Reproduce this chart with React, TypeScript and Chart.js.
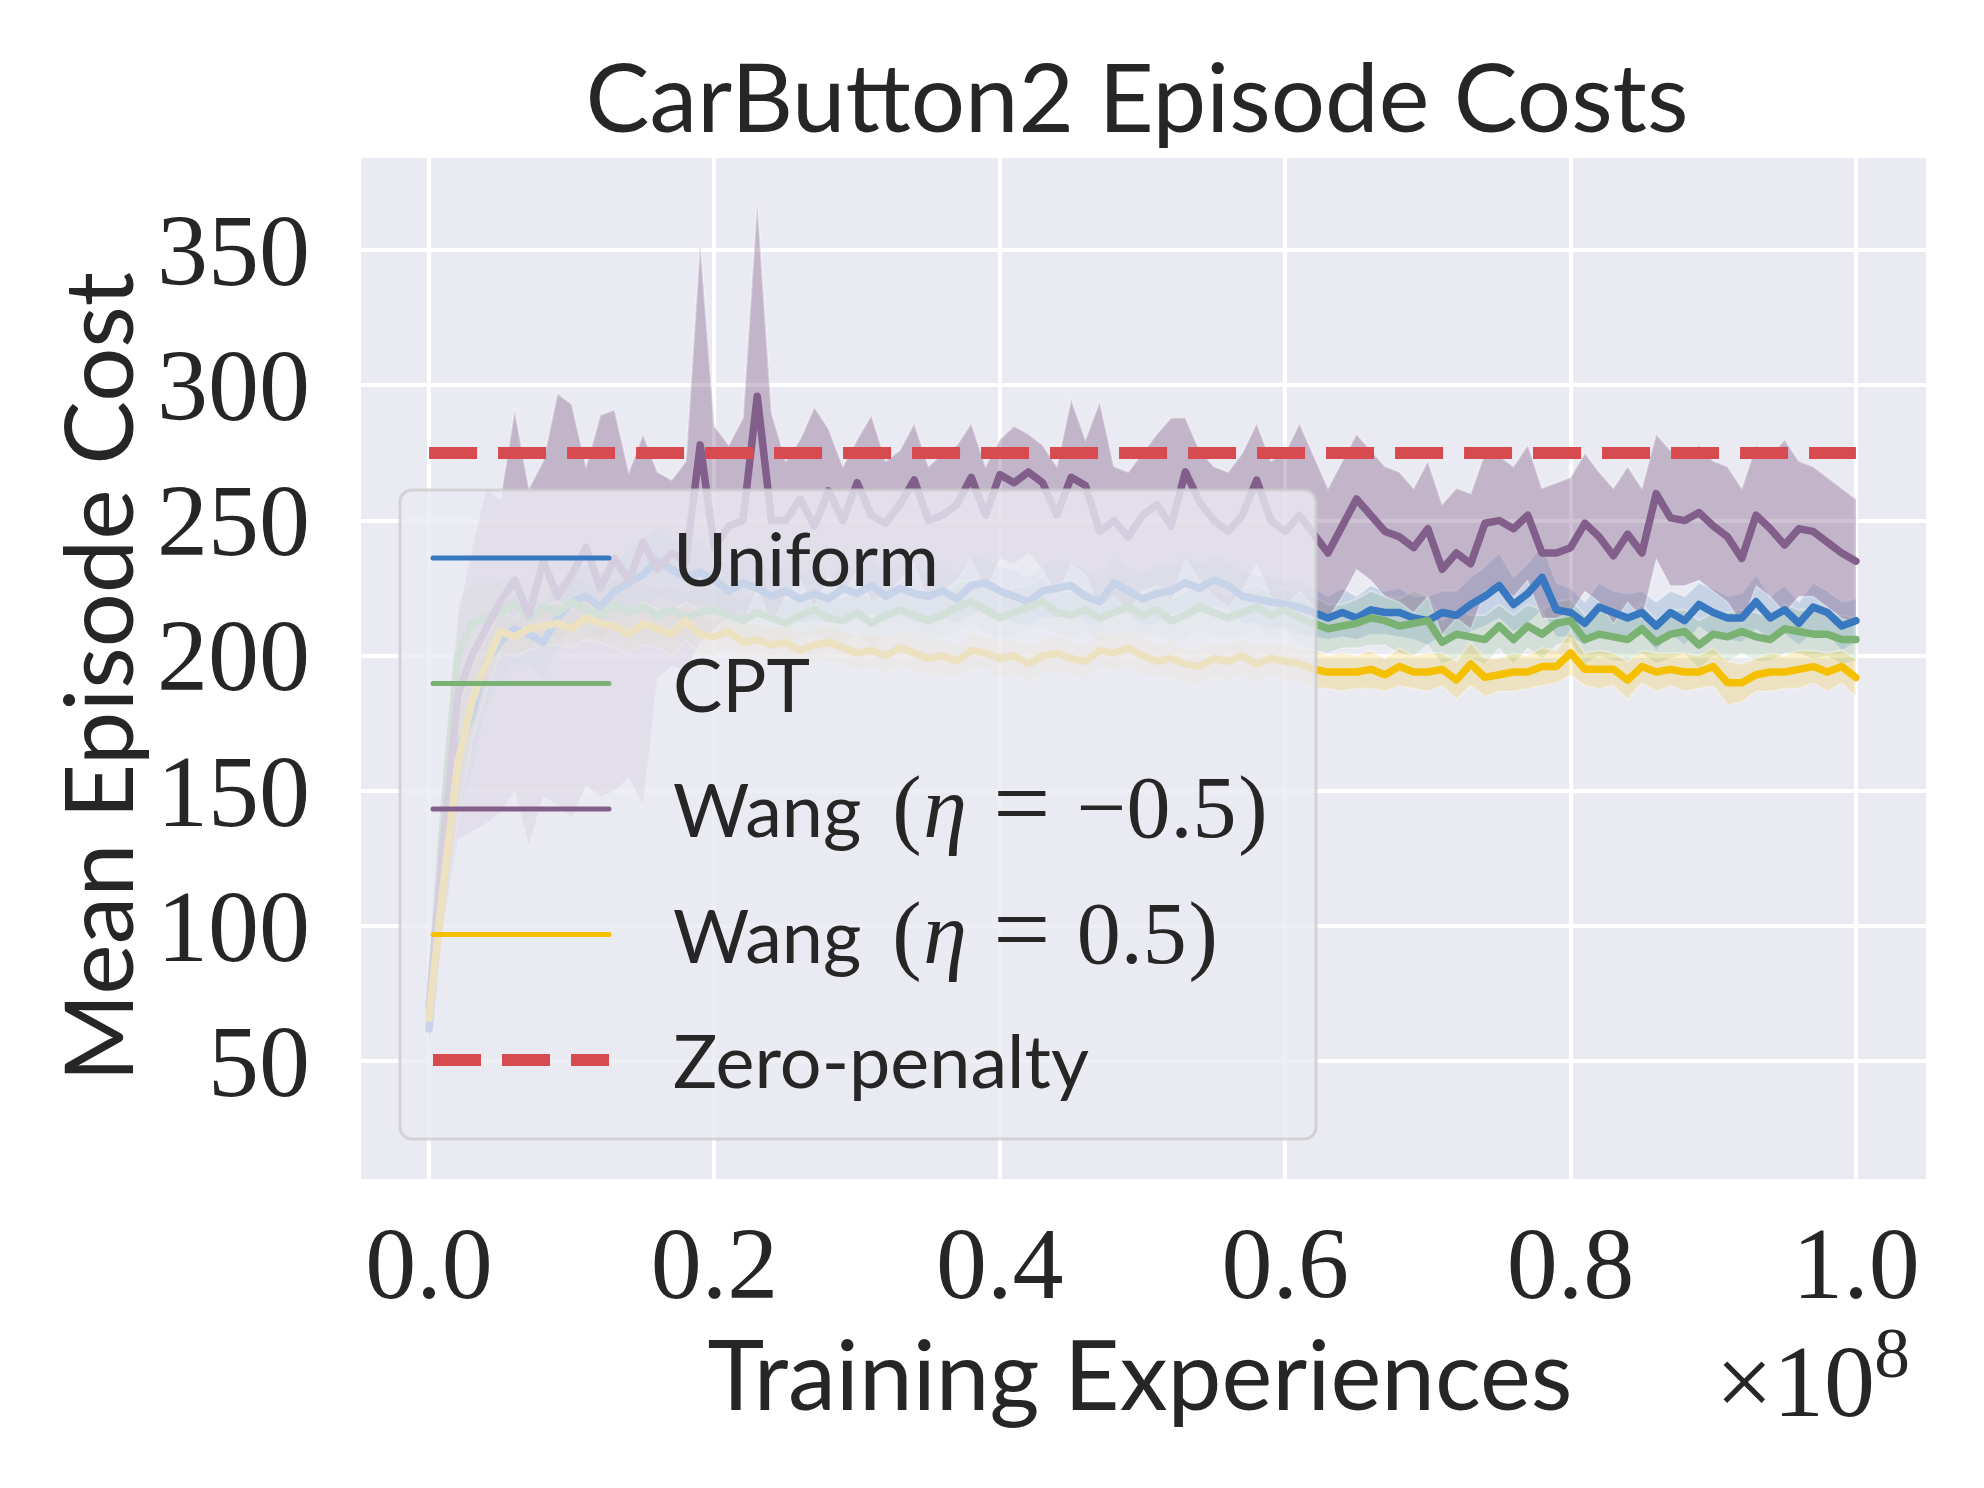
import { useEffect, useRef } from 'react'
import Chart from 'chart.js/auto'

// x values are millions of training experiences; the axis shows them in units of 1e8
const experiencesM = [
  0, 1, 2, 3, 4, 5, 6, 7, 8, 9,
  10, 11, 12, 13, 14, 15, 16, 17, 18, 19,
  20, 21, 22, 23, 24, 25, 26, 27, 28, 29,
  30, 31, 32, 33, 34, 35, 36, 37, 38, 39,
  40, 41, 42, 43, 44, 45, 46, 47, 48, 49,
  50, 51, 52, 53, 54, 55, 56, 57, 58, 59,
  60, 61, 62, 63, 64, 65, 66, 67, 68, 69,
  70, 71, 72, 73, 74, 75, 76, 77, 78, 79,
  80, 81, 82, 83, 84, 85, 86, 87, 88, 89,
  90, 91, 92, 93, 94, 95, 96, 97, 98, 99,
  100,
]

const uniformCost = [
  62, 120, 165, 178, 198, 205, 210, 208, 205, 214,
  220, 222, 218, 224, 227, 230, 235, 232, 229, 231,
  228, 224, 227, 225, 222, 224, 221, 223, 221, 225,
  223, 226, 222, 225, 223, 222, 224, 221, 226, 227,
  224, 222, 220, 224, 225, 226, 222, 220, 227, 224,
  221, 223, 224, 227, 225, 228, 226, 222, 221, 220,
  219, 218, 216, 214, 216, 214, 217, 216, 216, 214,
  213, 216, 215, 219, 222, 226, 219, 223, 229, 217,
  216, 212, 218, 216, 214, 216, 211, 216, 213, 219,
  216, 214, 214, 220, 214, 217, 212, 218, 216, 211,
  213,
]
const uniformSd = [
  8, 20, 25, 22, 18, 14, 13, 12, 14, 12,
  11, 12, 13, 11, 12, 14, 13, 12, 11, 12,
  10, 9, 10, 11, 9, 10, 9, 10, 9, 11,
  9, 10, 9, 10, 11, 9, 10, 9, 11, 10,
  9, 10, 9, 10, 11, 9, 10, 9, 10, 9,
  10, 11, 9, 10, 9, 10, 9, 10, 9, 10,
  9, 10, 9, 8, 9, 8, 9, 8, 9, 8,
  9, 8, 9, 10, 11, 12, 10, 11, 12, 10,
  9, 8, 9, 8, 9, 8, 9, 8, 9, 8,
  9, 8, 9, 10, 8, 9, 8, 9, 8, 9,
  8,
]

const cptCost = [
  66, 140, 200, 212, 214, 216, 219, 214, 218, 216,
  220, 217, 215, 219, 216, 218, 215, 217, 214, 216,
  217, 215, 213, 216, 214, 212, 215, 217, 214, 213,
  216, 212, 215, 217, 215, 213, 215, 218, 220, 217,
  214, 216, 218, 220, 216, 215, 217, 214, 216, 218,
  215, 217, 213, 215, 218, 216, 214, 216, 218, 215,
  217, 214, 212, 210, 211, 212, 214, 213, 211, 212,
  213, 205, 208, 207, 206, 211, 206, 211, 208, 212,
  213, 206, 208, 207, 206, 210, 205, 208, 209, 204,
  208, 207, 209, 207, 206, 210, 209, 208, 208, 206,
  206,
]
const cptSd = [
  8, 22, 20, 16, 13, 12, 11, 12, 10, 11,
  10, 11, 9, 10, 11, 9, 10, 9, 10, 9,
  8, 9, 8, 9, 8, 9, 8, 9, 8, 9,
  8, 9, 8, 9, 8, 9, 8, 9, 8, 9,
  8, 9, 8, 9, 8, 9, 8, 9, 8, 9,
  8, 9, 8, 9, 8, 9, 8, 9, 8, 9,
  8, 9, 10, 9, 8, 9, 10, 9, 10, 12,
  9, 8, 9, 8, 9, 8, 9, 8, 9, 8,
  8, 9, 8, 9, 8, 9, 8, 9, 8, 9,
  8, 9, 8, 9, 8, 9, 8, 9, 8, 9,
  8,
]

const wangNegCost = [
  70, 130, 185, 200, 210, 220, 228, 215, 235, 222,
  230, 240, 225, 236, 228, 242, 232, 238, 235, 278,
  240, 248, 250, 296, 250, 250, 258, 248, 261, 250,
  264, 252, 249, 256, 265, 250, 252, 256, 266, 252,
  267, 264, 268, 264, 252, 266, 263, 246, 250, 244,
  252, 256, 248, 268, 257, 250, 246, 252, 265, 250,
  246, 252, 245, 238, 248, 258, 252, 246, 244, 240,
  247, 232, 238, 234, 249, 250, 247, 252, 238, 238,
  240, 249, 244, 237, 245, 238, 260, 251, 250, 253,
  248, 244, 236, 252, 247, 241, 247, 246, 242, 238,
  235,
]
const wangNegHigh = [
  78, 145, 215, 240, 262, 258, 291, 262, 272, 297,
  293, 270, 289, 291, 268, 282, 268, 265, 272, 353,
  285, 278, 288, 368, 290, 272, 280, 292, 284, 270,
  280, 289, 272, 276, 286, 270, 275, 278, 286, 270,
  280, 285, 282, 278, 270, 295, 280, 294, 270, 268,
  275, 282, 288, 288, 276, 270, 268, 275, 286, 272,
  275, 286, 274, 262, 272, 282, 276, 270, 268, 262,
  272, 256, 262, 260, 275, 274, 270, 278, 262, 264,
  266, 275, 268, 262, 270, 262, 282, 276, 274, 278,
  272, 270, 262, 278, 274, 280, 272, 270, 266, 262,
  258,
]
const wangNegLow = [
  55, 100, 132, 135, 138, 142, 150, 130, 148, 145,
  140, 152, 148, 150, 155, 145, 192, 196, 195, 205,
  210, 215, 212, 225, 212, 222, 228, 218, 230, 222,
  232, 220, 222, 228, 234, 220, 224, 228, 236, 224,
  236, 234, 238, 232, 222, 234, 230, 218, 222, 216,
  224, 226, 220, 236, 228, 222, 218, 224, 234, 222,
  218, 224, 218, 214, 222, 232, 228, 222, 220, 216,
  222, 208, 214, 210, 224, 226, 222, 228, 214, 214,
  216, 224, 220, 212, 220, 214, 236, 226, 226, 228,
  224, 220, 212, 226, 222, 216, 222, 222, 218, 214,
  212,
]

const wangPosCost = [
  66, 115, 160, 183, 197, 209, 207, 210, 211, 212,
  210, 214, 212, 211, 208, 212, 210, 208, 213, 208,
  207, 209, 205, 206, 204, 205, 202, 204, 205, 203,
  201, 202, 200, 203, 201, 199, 200, 198, 202, 201,
  199, 200, 197, 200, 201, 199, 198, 202, 201, 203,
  200, 198, 199, 197, 196, 199, 198, 200, 197, 199,
  198, 197, 195, 194, 194, 194, 195, 193, 196, 194,
  194, 195, 191, 197, 192, 193, 194, 194, 196, 196,
  201, 195, 195, 195, 191, 196, 194, 195, 194, 194,
  196, 190, 190, 193, 194, 194, 195, 196, 194, 196,
  192,
]
const wangPosSd = [
  8, 18, 20, 14, 10, 8, 7, 8, 7, 8,
  7, 8, 7, 8, 7, 8, 7, 8, 7, 8,
  7, 6, 7, 6, 7, 6, 7, 6, 7, 6,
  7, 6, 7, 6, 7, 6, 7, 6, 7, 6,
  7, 6, 7, 6, 7, 6, 7, 6, 7, 6,
  7, 6, 7, 6, 7, 6, 7, 6, 7, 6,
  7, 6, 7, 6, 7, 6, 7, 6, 7, 6,
  7, 6, 7, 8, 7, 6, 7, 6, 7, 6,
  8, 6, 7, 6, 7, 6, 7, 6, 7, 6,
  7, 8, 7, 6, 7, 6, 7, 6, 7, 6,
  7,
]

const zeroPenaltyCost = 275
const zeroPenaltyRange = [0, 100]

const yTickValues = [50, 100, 150, 200, 250, 300, 350]
const xTickValues = [0, 20, 40, 60, 80, 100]
const xTickLabels = ['0.0', '0.2', '0.4', '0.6', '0.8', '1.0']

const BLUE = '56, 120, 192'
const GREEN = '122, 178, 115'
const PURPLE = '130, 94, 138'
const YELLOW = '245, 192, 0'
const RED = 'rgb(214, 74, 80)'

const SANS = '"Lato", "Open Sans", sans-serif'
const SERIF = '"Liberation Serif", "DejaVu Serif", serif'
const TEXT = '#262626'

const pts = (ys: number[]) => ys.map((y, i) => ({ x: experiencesM[i], y }))

function lineSet(label: string, rgb: string, ys: number[], order: number) {
  return {
    label,
    data: pts(ys),
    borderColor: `rgb(${rgb})`,
    borderWidth: 7.5,
    pointRadius: 0,
    tension: 0,
    fill: false,
    borderJoinStyle: 'round' as const,
    borderCapStyle: 'round' as const,
    order,
  }
}

function bandSets(rgb: string, hi: number[], lo: number[], alpha: number, order: number) {
  const edge = {
    borderColor: 'rgba(255, 255, 255, 0.35)',
    borderWidth: 2,
    pointRadius: 0,
    tension: 0,
    order,
  }
  return [
    { ...edge, label: 'hi', data: pts(hi), fill: '+1', backgroundColor: `rgba(${rgb}, ${alpha})` },
    { ...edge, label: 'lo', data: pts(lo), fill: false },
  ]
}

function fitSize(ctx: CanvasRenderingContext2D, text: string, family: string, target: number) {
  ctx.font = `100px ${family}`
  return (100 * target) / ctx.measureText(text).width
}

function roundRect(ctx: CanvasRenderingContext2D, x: number, y: number, w: number, h: number, r: number) {
  ctx.beginPath()
  ctx.moveTo(x + r, y)
  ctx.arcTo(x + w, y, x + w, y + h, r)
  ctx.arcTo(x + w, y + h, x, y + h, r)
  ctx.arcTo(x, y + h, x, y, r)
  ctx.arcTo(x, y, x + w, y, r)
  ctx.closePath()
}

const legendItems = [
  { name: 'Uniform', color: `rgb(${BLUE})`, dashed: false, eta: '' },
  { name: 'CPT', color: `rgb(${GREEN})`, dashed: false, eta: '' },
  { name: 'Wang', color: `rgb(${PURPLE})`, dashed: false, eta: '\u22120.5' },
  { name: 'Wang', color: `rgb(${YELLOW})`, dashed: false, eta: '0.5' },
  { name: 'Zero-penalty', color: RED, dashed: true, eta: '' },
]

function drawLegend(ctx: CanvasRenderingContext2D) {
  ctx.save()
  roundRect(ctx, 400, 490, 916, 649, 12)
  ctx.fillStyle = 'rgba(234, 234, 242, 0.8)'
  ctx.fill()
  ctx.lineWidth = 3
  ctx.strokeStyle = 'rgba(204, 204, 204, 0.8)'
  ctx.stroke()

  const sansSize = fitSize(ctx, 'Zero-penalty', SANS, 416)
  const mathSize = 88
  legendItems.forEach((item, k) => {
    const y = 558 + k * 125.5
    ctx.beginPath()
    ctx.moveTo(433, y)
    ctx.lineTo(609, y)
    ctx.strokeStyle = item.color
    ctx.lineWidth = item.dashed ? 12 : 5
    ctx.lineCap = item.dashed ? 'butt' : 'round'
    ctx.setLineDash(item.dashed ? [48, 21] : [])
    ctx.stroke()
    ctx.setLineDash([])

    ctx.fillStyle = TEXT
    ctx.textAlign = 'left'
    ctx.textBaseline = 'alphabetic'
    ctx.font = `${sansSize}px ${SANS}`
    const base = y + 28
    ctx.fillText(item.name, 673, base)
    if (item.eta) {
      let cx = 673 + ctx.measureText(item.name).width + 0.42 * sansSize
      const put = (t: string, font: string, gap: number) => {
        ctx.font = font
        cx += gap
        ctx.fillText(t, cx, base)
        cx += ctx.measureText(t).width
      }
      const upright = `${mathSize}px ${SERIF}`
      put('(', upright, 0)
      put('\u03b7', `italic ${mathSize}px ${SERIF}`, 0.02 * mathSize)
      put('=', `${mathSize * 1.15}px ${SERIF}`, 0.3 * mathSize)
      put(item.eta, upright, 0.3 * mathSize)
      put(')', upright, 0.02 * mathSize)
    }
  })
  ctx.restore()
}

const decor = {
  id: 'decor',
  beforeDraw(chart: Chart) {
    const { ctx, chartArea: a } = chart
    ctx.save()
    ctx.fillStyle = '#ffffff'
    ctx.fillRect(0, 0, chart.width, chart.height)
    ctx.fillStyle = '#eaeaf2'
    ctx.fillRect(a.left, a.top, a.right - a.left, a.bottom - a.top)
    ctx.restore()
  },
  afterDraw(chart: Chart) {
    const ctx = chart.ctx
    const xs = chart.scales.x
    const ys = chart.scales.y
    drawLegend(ctx)

    ctx.save()
    ctx.fillStyle = TEXT
    ctx.textBaseline = 'alphabetic'
    const tickSize = 102
    ctx.font = `${tickSize}px ${SERIF}`
    ctx.textAlign = 'right'
    yTickValues.forEach((v) => {
      ctx.fillText(String(v), 310, ys.getPixelForValue(v) + 0.34 * tickSize)
    })
    ctx.textAlign = 'center'
    xTickValues.forEach((v, i) => {
      ctx.fillText(xTickLabels[i], xs.getPixelForValue(v), 1298)
    })
    // offset text of the x axis
    ctx.textAlign = 'right'
    ctx.fillText('\u00d710', 1875, 1416)
    ctx.font = `${0.7 * tickSize}px ${SERIF}`
    ctx.fillText('8', 1910, 1377)

    ctx.textAlign = 'center'
    let size = fitSize(ctx, 'CarButton2 Episode Costs', SANS, 1103)
    ctx.font = `${size}px ${SANS}`
    ctx.fillText('CarButton2 Episode Costs', 1137, 132)

    size = fitSize(ctx, 'Training Experiences', SANS, 865)
    ctx.font = `${size}px ${SANS}`
    ctx.fillText('Training Experiences', 1140, 1410)

    size = fitSize(ctx, 'Mean Episode Cost', SANS, 810)
    ctx.font = `${size}px ${SANS}`
    ctx.translate(133, 677)
    ctx.rotate(-Math.PI / 2)
    ctx.fillText('Mean Episode Cost', 0, 0)
    ctx.restore()
  },
}

export default function App() {
  const canvasRef = useRef<HTMLCanvasElement | null>(null)
  const chartRef = useRef<Chart | null>(null)

  useEffect(() => {
    if (!canvasRef.current) return
    if (chartRef.current) chartRef.current.destroy()

    const band = (m: number[], sd: number[], sign: number) => m.map((v, i) => v + sign * sd[i])

    chartRef.current = new Chart(canvasRef.current, {
      type: 'line',
      data: {
        datasets: [
          {
            label: 'Zero-penalty',
            data: zeroPenaltyRange.map((x) => ({ x, y: zeroPenaltyCost })),
            borderColor: RED,
            borderWidth: 12,
            borderDash: [48, 21],
            borderCapStyle: 'butt',
            pointRadius: 0,
            fill: false,
            order: 0,
          },
          lineSet('Wang (eta = 0.5)', YELLOW, wangPosCost, 1),
          lineSet('Wang (eta = -0.5)', PURPLE, wangNegCost, 2),
          lineSet('CPT', GREEN, cptCost, 3),
          lineSet('Uniform', BLUE, uniformCost, 4),
          ...bandSets(YELLOW, band(wangPosCost, wangPosSd, 1), band(wangPosCost, wangPosSd, -1), 0.2, 5),
          ...bandSets(PURPLE, wangNegHigh, wangNegLow, 0.38, 6),
          ...bandSets(GREEN, band(cptCost, cptSd, 1), band(cptCost, cptSd, -1), 0.2, 7),
          ...bandSets(BLUE, band(uniformCost, uniformSd, 1), band(uniformCost, uniformSd, -1), 0.2, 8),
        ] as any,
      },
      options: {
        responsive: false,
        animation: false,
        devicePixelRatio: 1,
        layout: { padding: { left: 361, top: 158, right: 58, bottom: 309 } },
        plugins: {
          legend: { display: false },
          tooltip: { enabled: false },
          title: { display: false },
        },
        scales: {
          x: {
            type: 'linear',
            min: -4.77,
            max: 104.91,
            ticks: { display: false },
            grid: { color: '#ffffff', lineWidth: 4, drawTicks: false },
            border: { display: false },
            afterBuildTicks: (axis: any) => {
              axis.ticks = xTickValues.map((value) => ({ value }))
            },
            afterFit: (axis: any) => {
              axis.height = 0
            },
          },
          y: {
            type: 'linear',
            min: 6.5,
            max: 384.1,
            ticks: { display: false },
            grid: { color: '#ffffff', lineWidth: 4, drawTicks: false },
            border: { display: false },
            afterBuildTicks: (axis: any) => {
              axis.ticks = yTickValues.map((value) => ({ value }))
            },
            afterFit: (axis: any) => {
              axis.width = 0
            },
          },
        },
      },
      plugins: [decor],
    })
    return () => chartRef.current?.destroy()
  }, [])

  return (
    <div style={{ position: 'fixed', left: 0, top: 0, width: 1984, height: 1488, background: '#fff' }}>
      <canvas ref={canvasRef} width={1984} height={1488} style={{ display: 'block', width: 1984, height: 1488 }} />
    </div>
  )
}
